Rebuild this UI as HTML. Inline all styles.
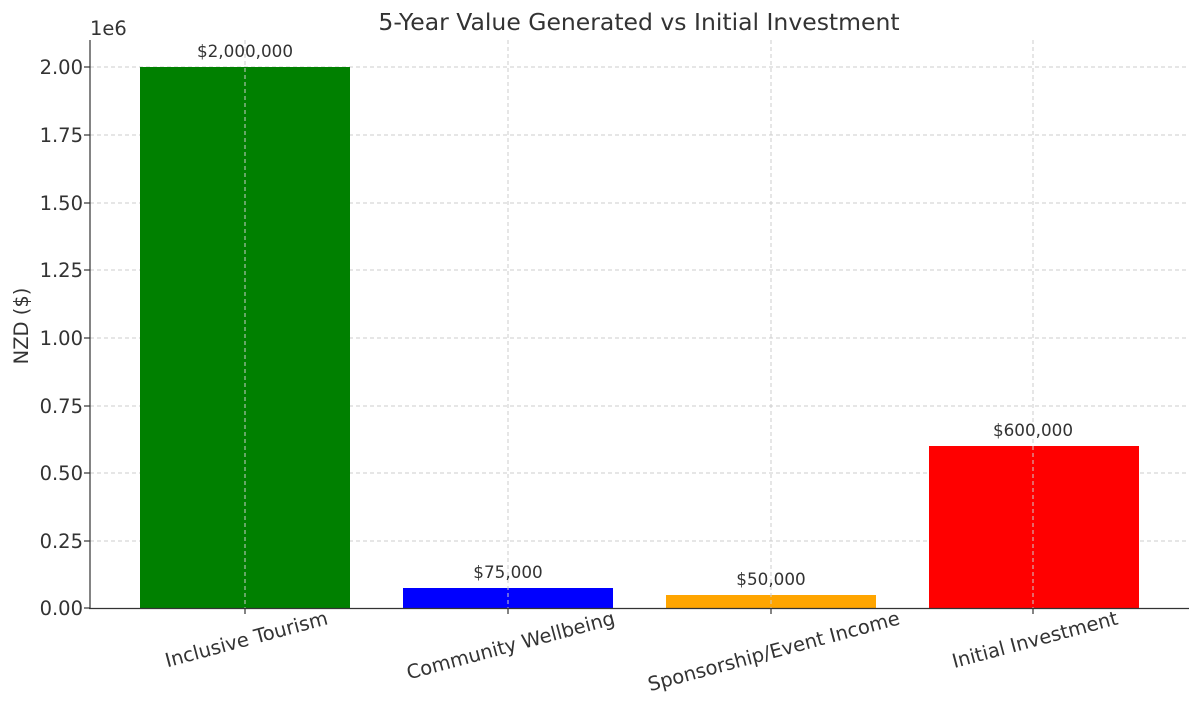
<!DOCTYPE html>
<html><head><meta charset="utf-8"><style>body{margin:0;background:#fff}svg{display:block}text{font-family:"DejaVu Sans","Liberation Sans",sans-serif;fill:#333}</style></head>
<body>
<svg width="1200" height="716" viewBox="0 0 1200 716" xmlns="http://www.w3.org/2000/svg">
<rect width="1200" height="716" fill="#fff"/>
<text x="639" y="30" font-size="23.5" text-anchor="middle">5-Year Value Generated vs Initial Investment</text>
<g fill="none" stroke="#ccc" stroke-width="1" stroke-dasharray="4,3">
<line x1="90" x2="1189" y1="67" y2="67"/><line x1="90" x2="1189" y1="135" y2="135"/><line x1="90" x2="1189" y1="203" y2="203"/><line x1="90" x2="1189" y1="270" y2="270"/><line x1="90" x2="1189" y1="338" y2="338"/><line x1="90" x2="1189" y1="406" y2="406"/><line x1="90" x2="1189" y1="473" y2="473"/><line x1="90" x2="1189" y1="541" y2="541"/>
</g>
<rect x="140" y="67" width="210" height="541" fill="#008000"/>
<rect x="403" y="588" width="210" height="20" fill="#0000ff"/>
<rect x="666" y="595" width="210" height="13" fill="#ffa500"/>
<rect x="929" y="446" width="210" height="162" fill="#ff0000"/>
<g fill="none" stroke="#ccc" stroke-width="1" stroke-dasharray="4,3">
<line x1="245" x2="245" y1="40" y2="608"/><line x1="508" x2="508" y1="40" y2="608"/><line x1="771" x2="771" y1="40" y2="608"/><line x1="1033" x2="1033" y1="40" y2="608"/>
</g>
<g stroke="#333" stroke-width="1.2"><line x1="90" x2="90" y1="40" y2="609"/><line x1="89" x2="1189" y1="608.5" y2="608.5"/>
<line x1="84" x2="90" y1="67" y2="67"/><line x1="84" x2="90" y1="135" y2="135"/><line x1="84" x2="90" y1="203" y2="203"/><line x1="84" x2="90" y1="270" y2="270"/><line x1="84" x2="90" y1="338" y2="338"/><line x1="84" x2="90" y1="406" y2="406"/><line x1="84" x2="90" y1="473" y2="473"/><line x1="84" x2="90" y1="541" y2="541"/><line x1="84" x2="90" y1="608" y2="608"/>
<line x1="245" x2="245" y1="608" y2="614"/><line x1="508" x2="508" y1="608" y2="614"/><line x1="771" x2="771" y1="608" y2="614"/><line x1="1033" x2="1033" y1="608" y2="614"/></g>
<g font-size="19.5" text-anchor="end">
<text x="83" y="74">2.00</text><text x="83" y="142">1.75</text><text x="83" y="210">1.50</text><text x="83" y="277">1.25</text><text x="83" y="345">1.00</text><text x="83" y="413">0.75</text><text x="83" y="480">0.50</text><text x="83" y="548">0.25</text><text x="83" y="615">0.00</text>
</g>
<text x="90" y="35" font-size="19.5">1e6</text>
<text transform="translate(28,326) rotate(-90)" font-size="19.5" text-anchor="middle">NZD ($)</text>
<g font-size="16.8" text-anchor="middle">
<text x="245" y="57">$2,000,000</text><text x="508" y="578">$75,000</text><text x="771" y="585">$50,000</text><text x="1033" y="436">$600,000</text>
</g>
<g font-size="19.5" text-anchor="end">
<text transform="translate(329,624) rotate(-15)">Inclusive Tourism</text>
<text transform="translate(616,624) rotate(-15)">Community Wellbeing</text>
<text transform="translate(901,624) rotate(-15)">Sponsorship/Event Income</text>
<text transform="translate(1119,624) rotate(-15)">Initial Investment</text>
</g>
</svg>
</body></html>
